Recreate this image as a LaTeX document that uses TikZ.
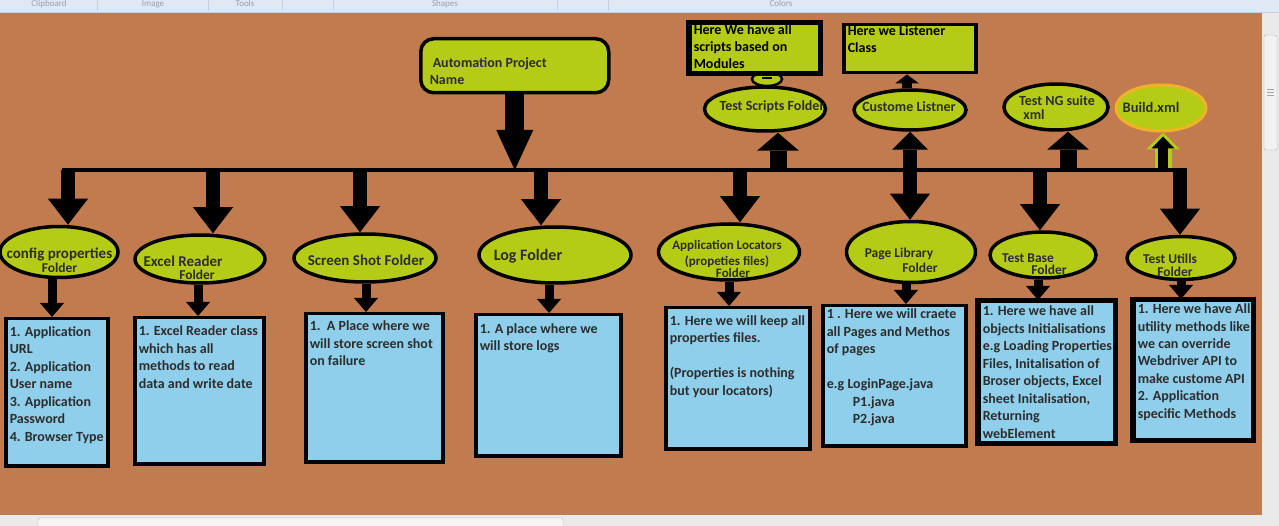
\documentclass[tikz,border=0pt]{standalone}
\usepackage{fontspec}
\setmainfont{Carlito}
\usetikzlibrary{shapes.geometric, arrows.meta, positioning, calc}

\definecolor{canvas}{RGB}{193,123,78}
\definecolor{lime}{RGB}{181,204,22}
\definecolor{boxblue}{RGB}{143,207,235}
\definecolor{inkgray}{RGB}{45,45,45}
\definecolor{buildring}{RGB}{240,178,40}
\definecolor{uibar}{RGB}{224,232,244}
\definecolor{uiline}{RGB}{198,208,222}
\definecolor{uitext}{RGB}{150,160,178}
\definecolor{uigray}{RGB}{234,234,234}

\pgfdeclarelayer{back}
\pgfsetlayers{back,main}

\newcommand{\smallfold}{\fontsize{13.5}{14}\selectfont}
\newcommand{\notetext}[4]{\parbox[c][#2][t]{#1}{\vspace*{#3}\begin{tabular}[t]{@{}l@{}}#4\end{tabular}}}

\tikzset{
  folder/.style 2 args={ellipse, draw=black, line width=3.5pt, fill=lime,
    inner sep=0pt, minimum width=#1pt, minimum height=#2pt},
  foldertext/.style={text=inkgray, align=center, inner sep=0pt,
    font=\fontsize{15}{14}\selectfont\bfseries},
  notebox/.style={rectangle, draw=black, line width=3.5pt, fill=boxblue,
    inner xsep=4pt, inner ysep=3pt, anchor=north west, text=inkgray,
    font=\fontsize{14}{17.5}\selectfont\bfseries},
  tipbox/.style={notebox, fill=lime, text=black,
    font=\fontsize{14}{17}\selectfont\bfseries},
  projbox/.style={draw=black, line width=3.5pt, fill=lime, rounded corners=13pt,
    inner xsep=9pt, inner ysep=3pt, anchor=north west, text=inkgray,
    font=\fontsize{14}{17}\selectfont\bfseries},
  mainarrow/.style={line width=19pt, -{Triangle[length=40pt 0, width=37pt 0, line width=0pt]}},
  downarrow/.style={line width=14pt, -{Triangle[length=26pt 0, width=40pt 0, line width=0pt]}},
  uparrow/.style={line width=17pt, -{Triangle[length=18pt 0, width=42pt 0, line width=0pt]}},
  bothways/.style={line width=14pt, {Triangle[length=18pt 0, width=36pt 0, line width=0pt]}-{Triangle[length=26pt 0, width=40pt 0, line width=0pt]}},
  smallarrow/.style={line width=9pt, -{Triangle[length=14pt 0, width=24pt 0, line width=0pt]}},
  uilabel/.style={anchor=base, text=uitext, inner sep=0pt, font=\fontsize{9}{9}\selectfont},
}

\begin{document}
\begin{tikzpicture}[x=1pt, y=-1pt]
\useasboundingbox (0,0) rectangle (1279,526);
\begin{pgfonlayer}{back}
\fill[canvas] (0,0) rectangle (1279,526);
\end{pgfonlayer}

% root node
\node[projbox] (proj) at (419,37) {\notetext{170pt}{48pt}{14pt}{\hspace*{3pt}Automation Project\\Name}};

% bus
\coordinate (bus) at (0,170);
\coordinate (busL) at (62,170);
\coordinate (busR) at (1187,170);

% lower folders
\node[folder={118}{51}] (cfg) at (59,252) {};
\node[folder={130}{48}] (excel) at (200,259) {};
\node[folder={142}{48}] (shot) at (365,258) {};
\node[folder={152}{56}] (logs) at (555,255) {};
\node[folder={141}{56}] (locators) at (729,252) {};
\node[folder={129}{61}] (pages) at (911,252) {};
\node[folder={106}{46}] (testbase) at (1043,255) {};
\node[folder={108}{43}] (utils) at (1181,258) {};

\node[foldertext] (cfgname) at (59.5,260.5) {config properties\\{\smallfold Folder}};
\node[foldertext] (excelname) at (190,268) {Excel Reader\hspace*{14pt}\\[-1pt]\hspace*{14pt}{\smallfold Folder}};
\node[foldertext] (shotname) at (366,260) {Screen Shot Folder};
\node[foldertext, font=\fontsize{16}{16}\selectfont\bfseries] (logsname) at (528,256) {Log Folder};
\node[foldertext, font=\fontsize{13}{14}\selectfont\bfseries] (locatorsname) at (727,259)
  {Application Locators\\[2pt](propeties files)\hspace*{24pt}\\[-2pt]\hspace*{12pt}Folder};
\node[foldertext, font=\fontsize{13.5}{14}\selectfont\bfseries] (pagesname) at (909.5,260.5)
  {Page Library\hspace*{21pt}\\[1pt]\hspace*{21pt}Folder};
\node[foldertext, font=\fontsize{13.5}{14}\selectfont\bfseries] (testbasename) at (1038.5,264.5)
  {Test Base\hspace*{21pt}\\[-2pt]\hspace*{21pt}Folder};
\node[foldertext, font=\fontsize{13.5}{14}\selectfont\bfseries] (utilsname) at (1172.5,265)
  {Test Utills\hspace*{5pt}\\[-1pt]\hspace*{5pt}Folder};

% upper folders
\node[ellipse, draw=black, line width=2.5pt, fill=lime, minimum width=30pt, minimum height=14pt, inner sep=0pt] (tsjoin) at (767,79) {};
\node[folder={121}{44}] (scripts) at (765,109) {};
\node[folder={112}{40}] (listener) at (910,110) {};
\node[folder={104}{46}] (suite) at (1056,107) {};
\node[folder={90}{46}, draw=buildring, line width=3pt] (build) at (1161,108) {};

\node[foldertext, font=\fontsize{14}{14}\selectfont\bfseries] (scriptsname) at (772,107) {Test Scripts Folder};
\node[foldertext, font=\fontsize{14}{14}\selectfont\bfseries] (listenername) at (909,107) {Custome Listner};
\node[foldertext, font=\fontsize{14}{14}\selectfont\bfseries] (suitename) at (1045.5,108)
  {\hspace*{23pt}Test NG suite\\xml\hspace*{23pt}};
\node[foldertext, font=\fontsize{14.5}{14}\selectfont\bfseries] (buildname) at (1151,107) {Build.xml};

% notes above
\node[tipbox] (scriptsnote) at (688,22) {\notetext{122pt}{43pt}{-4pt}{Here We have all\\scripts based on\\Modules}};
\node[tipbox] (listenernote) at (842,23) {\notetext{124pt}{42pt}{-4pt}{Here we Listener\\Class}};

% notes below
\node[notebox] (cfgnote) at (4,317) {\notetext{94pt}{141pt}{2pt}{1. Application\\URL\\2. Application\\User name\\3. Application\\Password\\4. Browser Type}};
\node[notebox] (excelnote) at (133,316) {\notetext{121pt}{140pt}{2.5pt}{1. Excel Reader class\\which has all\\methods to read\\data and write date}};
\node[notebox] (shotnote) at (304,312) {\notetext{129pt}{142pt}{1.5pt}{1.\ \ A Place where we\\will store screen shot\\on failure}};
\node[notebox] (logsnote) at (474,313) {\notetext{137pt}{135pt}{3.5pt}{1. A place where we\\will store logs}};
\node[notebox] (locatorsnote) at (664,306) {\notetext{136pt}{135pt}{2.5pt}{1. Here we will keep all\\properties files.\\[17.5pt](Properties is nothing\\but your locators)}};
\node[notebox] (pagesnote) at (821,304) {\notetext{135pt}{134pt}{-2.5pt}{1 . Here we will craete\\all Pages and Methos\\of pages\\[17.5pt]e.g LoginPage.java\\\hspace*{26pt}P1.java\\\hspace*{26pt}P2.java}};
\node[notebox] (testbasenote) at (977,300) {\notetext{128pt}{135pt}{-1.5pt}{1. Here we have all\\objects Initialisations\\e.g Loading Properties\\Files, Initalisation of\\Broser objects, Excel\\sheet Initalisation,\\Returning\\webElement}};
\node[notebox] (utilsnote) at (1132,299) {\notetext{111pt}{133pt}{-2.5pt}{1. Here we have All\\utility methods like\\we can override\\Webdriver API to\\make custome API\\2. Application\\specific Methods}};
% borders over the text that runs to the edge
\foreach \n in {scriptsnote, testbasenote, utilsnote}
  \draw[line width=3.5pt] (\n.north west) rectangle (\n.south east);

% connectors
\begin{pgfonlayer}{back}
\draw[mainarrow] (proj.south) -- (proj.south |- bus);
\draw[downarrow] ([xshift=9pt]cfg.north |- bus) -- ([xshift=9pt]cfg.north);
\draw[downarrow] ([xshift=13pt]excel.north |- bus) -- ([xshift=13pt]excel.north);
\draw[downarrow] ([xshift=-5pt]shot.north |- bus) -- ([xshift=-5pt]shot.north);
\draw[downarrow] ([xshift=-14pt]logs.north |- bus) -- ([xshift=-14pt]logs.north);
\draw[downarrow] ([xshift=11pt]locators.north |- bus) -- ([xshift=11pt]locators.north);
\draw[bothways] (listener.south) -- (listener.south |- pages.north);
\draw[downarrow] ([xshift=-3pt]testbase.north |- bus) -- ([xshift=-3pt]testbase.north);
\draw[downarrow] ([xshift=-1pt]utils.north |- bus) -- ([xshift=-1pt]utils.north);
\draw[uparrow] ([xshift=13pt]scripts.south |- bus) -- ([xshift=13pt]scripts.south);
\draw[uparrow] ([xshift=12pt]suite.south |- bus) -- ([xshift=12pt]suite.south);
% Build.xml arrow with lime rim
\draw[line width=17pt, lime, -{Triangle[length=17pt 0, width=34pt 0, line width=0pt]}] ([xshift=2pt]build.south |- bus) -- ([xshift=2pt]build.south);
\draw[line width=10pt, shorten >=4pt, -{Triangle[length=12pt 0, width=23pt 0, line width=0pt]}] ([xshift=2pt]build.south |- bus) -- ([xshift=2pt]build.south);
\draw[line width=4pt] (busL) -- (busR);
% small links
\draw[line width=10pt, -{Triangle[length=9pt 0, width=24pt 0, line width=0pt]}] ([xshift=-3pt]listener.north) -- ([xshift=-3pt]listener.north |- listenernote.south);
\draw[smallarrow] ([xshift=-7pt]cfg.south) -- ([xshift=-7pt]cfg.south |- cfgnote.north);
\draw[smallarrow] ([xshift=-2pt]excel.south) -- ([xshift=-2pt]excel.south |- excelnote.north);
\draw[smallarrow] ([xshift=1pt]shot.south) -- ([xshift=1pt]shot.south |- shotnote.north);
\draw[smallarrow] ([xshift=-6pt]logs.south) -- ([xshift=-6pt]logs.south |- logsnote.north);
\draw[smallarrow] (locators.south) -- (locators.south |- locatorsnote.north);
\draw[smallarrow] ([xshift=-5pt]pages.south) -- ([xshift=-5pt]pages.south |- pagesnote.north);
\draw[smallarrow] ([xshift=-5pt]testbase.south) -- ([xshift=-5pt]testbase.south |- testbasenote.north);
\draw[smallarrow] (utils.south) -- (utils.south |- utilsnote.north);
\end{pgfonlayer}
\draw[line width=2.5pt] ([xshift=-5pt,yshift=1pt]tsjoin.center) -- ([xshift=5pt,yshift=1pt]tsjoin.center);

% window frame
\fill[uibar] (0,0) rectangle (1279,12);
\draw[uiline, line width=0.8pt] (0,12.4) -- (1279,12.4);
\foreach \x/\t in {49/Clipboard, 153/Image, 245/Tools, 445/Shapes, 781/Colors}
  \node[uilabel] (ui\t) at (\x,6.5) {\t};
\foreach \x in {97,208,282,333,557,608}
  \draw[uiline] (\x,0) -- (\x,11);
\fill[uigray] (1262,12.8) rectangle (1279,526);
\draw[fill=white!95!black, draw=black!30, rounded corners=2pt] (1264,35) rectangle (1277,150);
\foreach \y in {89,92,95}
  \draw[black!35] (1267,\y) -- (1274,\y);
\fill[uigray] (0,515) rectangle (1262,526);
\draw[fill=white!96!black, draw=black!30, rounded corners=2pt] (38,518) rectangle (563,530);
\end{tikzpicture}
\end{document}
